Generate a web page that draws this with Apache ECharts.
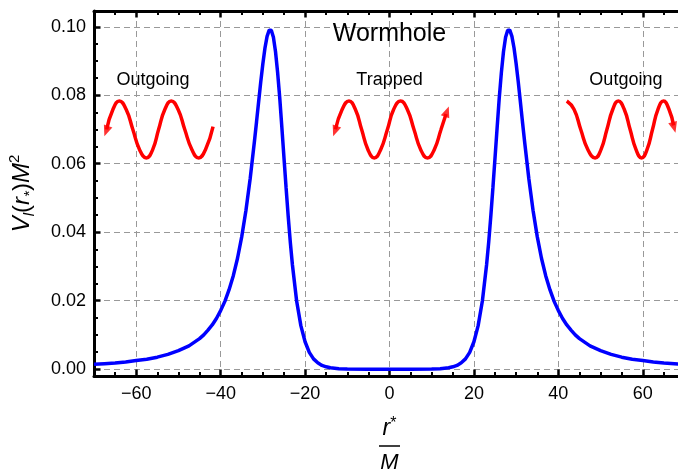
<!DOCTYPE html>
<html>
<head>
<meta charset="utf-8">
<script src="https://cdn.jsdelivr.net/npm/echarts@6.0.0/dist/echarts.min.js"></script>
<style>
  html, body { margin: 0; padding: 0; background: #fff; }
  #chart { width: 678px; height: 474px; }
</style>
</head>
<body>
<div id="chart"></div>
<script>
const rStar = [
  -70, -67.5, -65, -62.5, -60, -57.5, -55, -52.5, -50, -47.5,
  -45, -44, -43, -42, -41, -40, -39, -38, -37, -36,
  -35, -34, -33, -32, -31.5, -31, -30.5, -30, -29.5, -29,
  -28.5, -28.25, -28, -27.5, -27, -26.5, -26, -25.5, -25, -24.5,
  -24, -23.5, -23, -22, -21, -20, -19, -18, -17, -16,
  -15, -14, -12, -10, -5, 0,
  5, 10, 12, 14, 15, 16, 17, 18, 19, 20,
  21, 22, 23, 23.5, 24, 24.5, 25, 25.5, 26, 26.5,
  27, 27.5, 28, 28.25, 28.5, 29, 29.5, 30, 30.5, 31,
  31.5, 32, 33, 34, 35, 36, 37, 38, 39, 40,
  41, 42, 43, 44, 45, 47.5, 50, 52.5, 55, 57.5,
  60, 62.5, 65, 67.5, 70
]
const potential = [
  0.0014, 0.0016, 0.0018, 0.0021, 0.0025, 0.0029, 0.0035, 0.0043, 0.0054, 0.0068,
  0.0089, 0.0100, 0.0114, 0.0129, 0.0148, 0.0171, 0.0198, 0.0232, 0.0273, 0.0324,
  0.0387, 0.0464, 0.0557, 0.0665, 0.0722, 0.0781, 0.0839, 0.0892, 0.0938, 0.0972,
  0.0990, 0.0993, 0.0990, 0.0969, 0.0927, 0.0866, 0.0792, 0.0706, 0.0618, 0.0530,
  0.0447, 0.0371, 0.0305, 0.0199, 0.0127, 0.0080, 0.0049, 0.0030, 0.00185, 0.0011,
  0.00068, 0.0004, 0.00015, 0.00005, 0, 0,
  0, 0.00005, 0.00015, 0.0004, 0.00068, 0.0011, 0.00185, 0.0030, 0.0049, 0.0080,
  0.0127, 0.0199, 0.0305, 0.0371, 0.0447, 0.0530, 0.0618, 0.0706, 0.0792, 0.0866,
  0.0927, 0.0969, 0.0990, 0.0993, 0.0990, 0.0972, 0.0938, 0.0892, 0.0839, 0.0781,
  0.0722, 0.0665, 0.0557, 0.0464, 0.0387, 0.0324, 0.0273, 0.0232, 0.0198, 0.0171,
  0.0148, 0.0129, 0.0114, 0.0100, 0.0089, 0.0068, 0.0054, 0.0043, 0.0035, 0.0029,
  0.0025, 0.0021, 0.0018, 0.0016, 0.0014
]

// red wave sketches
const waveLeftX = [-67.0, -65.5, -64.0, -62.4, -60.8, -59.2, -57.6, -56.1, -54.7, -53.2, -51.7, -50.1, -48.5, -46.8, -45.2, -43.6, -41.8]
const waveLeftY = [0.0700, 0.0759, 0.0783, 0.0759, 0.0700, 0.0641, 0.0617, 0.0641, 0.0700, 0.0759, 0.0783, 0.0759, 0.0700, 0.0641, 0.0617, 0.0641, 0.0708]
const waveMidX = [-12.8, -11.2, -9.6, -8.1, -6.6, -5.1, -3.6, -2.1, -0.5, 1.0, 2.6, 4.2, 5.8, 7.4, 9.0, 10.6, 12.2, 13.4]
const waveMidY = [0.0700, 0.0759, 0.0783, 0.0759, 0.0700, 0.0641, 0.0617, 0.0641, 0.0700, 0.0759, 0.0783, 0.0759, 0.0700, 0.0641, 0.0617, 0.0641, 0.0700, 0.0745]
const waveRightX = [42.0, 43.7, 45.3, 47.0, 48.7, 50.1, 51.5, 52.9, 54.2, 55.6, 57.0, 58.4, 59.7, 61.0, 62.3, 63.6, 64.9, 66.2, 67.3]
const waveRightY = [0.0783, 0.0759, 0.0700, 0.0641, 0.0617, 0.0641, 0.0700, 0.0759, 0.0783, 0.0759, 0.0700, 0.0641, 0.0617, 0.0641, 0.0700, 0.0759, 0.0783, 0.0759, 0.0712]

// arrow heads at the wave ends
const arrowX = [-67.1, -12.9, 13.6, 67.4]
const arrowY = [0.0695, 0.0695, 0.0752, 0.0706]
const arrowAngle = [160, 160, -20, -165]

// text annotations
const noteText = ['Wormhole', 'Outgoing', 'Trapped', 'Outgoing']
const noteX = [0, -56, 0, 56]
const noteY = [0.0978, 0.0845, 0.0845, 0.0845]
const noteSize = [25, 18, 18, 18]

// ticks
const xTicks = [-60, -40, -20, 0, 20, 40, 60]
const xMinorTicks = [-65, -55, -50, -45, -35, -30, -25, -15, -10, -5, 5, 10, 15, 25, 30, 35, 45, 50, 55, 65]
const yTicks = [0, 0.02, 0.04, 0.06, 0.08, 0.10]
const yMinorTicks = [0.005, 0.01, 0.015, 0.025, 0.03, 0.035, 0.045, 0.05, 0.055, 0.065, 0.07, 0.075, 0.085, 0.09, 0.095]

const X_MIN = -70, X_MAX = 70
const Y_MIN = -0.002, Y_MAX = 0.1046

const FONT = 'Liberation Sans, Arial, sans-serif'
const zip = (a, b) => a.map((v, i) => [v, b[i]])

const chart = echarts.init(document.getElementById('chart'))

const frameLine = { show: true, onZero: false, lineStyle: { color: '#000', width: 3 } }
const noLine = { show: false, onZero: false }
const majorTick = (vals) => ({ show: true, inside: true, length: 6.5, customValues: vals, lineStyle: { color: '#000', width: 2.5 } })
const minorTick = (vals) => ({ show: true, inside: true, length: 4, customValues: vals, lineStyle: { color: '#000', width: 2 } })
const gridDash = { show: true, lineStyle: { color: '#999', width: 1, type: [6, 4] } }

const option = {
    animation: false,
    grid: { left: 94, right: -7, top: 11, bottom: 98, outerBoundsMode: 'none', containLabel: false },
    xAxis: [
        {
            type: 'value', min: X_MIN, max: X_MAX, position: 'bottom',
            axisLine: frameLine,
            axisTick: majorTick(xTicks),
            axisLabel: {
                customValues: xTicks, color: '#000', fontSize: 18, fontFamily: FONT, margin: 9,
                formatter: (v) => String(v).replace('-', '\u2212')
            },
            splitLine: gridDash,
            name: '{r|r}{st|*}\n{bar|}\n{m|M}',
            nameLocation: 'middle',
            nameGap: 40,
            nameTextStyle: {
                color: '#000',
                rich: {
                    r: { fontSize: 23, fontStyle: 'italic', fontFamily: FONT, lineHeight: 26, align: 'center', color: '#000' },
                    st: { fontSize: 16, fontFamily: FONT, lineHeight: 26, verticalAlign: 'top', align: 'center', color: '#000' },
                    bar: { width: 21, height: 1.5, backgroundColor: '#000', lineHeight: 8, align: 'center' },
                    m: { fontSize: 22, fontStyle: 'italic', fontFamily: FONT, lineHeight: 26, align: 'center', color: '#000' }
                }
            }
        },
        {
            type: 'value', min: X_MIN, max: X_MAX, position: 'bottom',
            axisLine: noLine, axisTick: minorTick(xMinorTicks),
            axisLabel: { show: false }, splitLine: { show: false }
        },
        {
            type: 'value', min: X_MIN, max: X_MAX, position: 'top',
            axisLine: frameLine, axisTick: majorTick(xTicks),
            axisLabel: { show: false }, splitLine: { show: false }
        },
        {
            type: 'value', min: X_MIN, max: X_MAX, position: 'top',
            axisLine: noLine, axisTick: minorTick(xMinorTicks),
            axisLabel: { show: false }, splitLine: { show: false }
        }
    ],
    yAxis: [
        {
            type: 'value', min: Y_MIN, max: Y_MAX, position: 'left',
            axisLine: frameLine,
            axisTick: majorTick(yTicks),
            axisLabel: {
                customValues: yTicks, color: '#000', fontSize: 18, fontFamily: FONT, margin: 8,
                formatter: (v) => v.toFixed(2)
            },
            splitLine: gridDash,
            name: '{v|V}{sb|l}{n|(}{v|r}{sb|*}{n|)}{v|M}{sp|2}',
            nameLocation: 'middle',
            nameRotate: 90,
            nameGap: 57,
            nameTextStyle: {
                color: '#000',
                rich: {
                    v: { fontSize: 24, fontStyle: 'italic', fontFamily: FONT, lineHeight: 30, color: '#000' },
                    n: { fontSize: 24, fontFamily: FONT, lineHeight: 30, color: '#000' },
                    sb: { fontSize: 15, fontStyle: 'italic', fontFamily: FONT, lineHeight: 30, verticalAlign: 'bottom', color: '#000' },
                    sp: { fontSize: 15, fontFamily: FONT, lineHeight: 30, verticalAlign: 'top', color: '#000' }
                }
            }
        },
        {
            type: 'value', min: Y_MIN, max: Y_MAX, position: 'left',
            axisLine: noLine, axisTick: minorTick(yMinorTicks),
            axisLabel: { show: false }, splitLine: { show: false }
        }
    ],
    series: [
        {
            name: 'potential',
            type: 'line',
            data: zip(rStar, potential),
            showSymbol: false,
            lineStyle: { color: '#0000ff', width: 3.5 },
            z: 3
        },
        ...[[waveLeftX, waveLeftY], [waveMidX, waveMidY], [waveRightX, waveRightY]].map(([xs, ys]) => ({
            type: 'line',
            data: zip(xs, ys),
            smooth: true,
            showSymbol: false,
            lineStyle: { color: '#ff0000', width: 3.5 },
            z: 4
        })),
        {
            type: 'scatter',
            data: arrowX.map((x, i) => ({ value: [x, arrowY[i]], symbolRotate: arrowAngle[i] })),
            symbol: 'triangle',
            symbolSize: [9, 11],
            itemStyle: { color: '#ff0000' },
            z: 5
        },
        {
            type: 'scatter',
            data: noteX.map((x, i) => ({
                value: [x, noteY[i]],
                label: { formatter: noteText[i], fontSize: noteSize[i], color: '#000' }
            })),
            symbolSize: 1,
            itemStyle: { color: 'rgba(0,0,0,0)' },
            label: {
                show: true, position: 'inside', color: '#000', fontFamily: FONT,
                textBorderWidth: 0, opacity: 1
            },
            z: 6
        }
    ]
}

chart.setOption(option)
</script>
</body>
</html>
